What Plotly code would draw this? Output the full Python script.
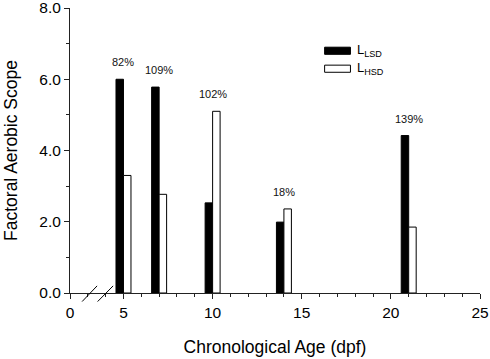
import plotly.graph_objects as go

ages = [5, 7, 10, 14, 21]
lsd = [6.0, 5.78, 2.53, 1.99, 4.42]
hsd = [3.3, 2.77, 5.1, 2.36, 1.85]
pct_labels = ["82%", "109%", "102%", "18%", "139%"]
x_tick_vals = [2, 5, 10, 15, 20, 25]
x_tick_text = ["0", "5", "10", "15", "20", "25"]
y_tick_vals = [0, 2, 4, 6, 8]
y_tick_text = ["0.0", "2.0", "4.0", "6.0", "8.0"]

XMIN, XMAX = 2, 25
BW = 0.42
FONT = "Liberation Sans, Arial, sans-serif"

fig = go.Figure()
fig.add_trace(go.Bar(x=ages, y=lsd, width=BW, offset=-BW, name="LSD",
                     marker=dict(color="black", line=dict(color="black", width=1))))
fig.add_trace(go.Bar(x=ages, y=hsd, width=BW, offset=0, name="HSD",
                     marker=dict(color="white", line=dict(color="black", width=1))))

for a, l, h, t in zip(ages, lsd, hsd, pct_labels):
    fig.add_annotation(x=a, y=max(l, h), text=t, showarrow=False, yanchor="bottom",
                       yshift=9, font=dict(size=11, color="#111111", family=FONT))

def px(v):
    return (v - XMIN) / (XMAX - XMIN)

# axis break marks
for x0, x1 in [(2.68, 3.52), (3.55, 4.42)]:
    fig.add_shape(type="line", xref="paper", yref="paper", x0=px(x0), x1=px(x1),
                  y0=-0.03, y1=0.025, line=dict(color="black", width=1))

# custom legend
legend_items = [("black", "L<sub>LSD</sub>", 0.85), ("white", "L<sub>HSD</sub>", 0.787)]
for color, label, yc in legend_items:
    fig.add_shape(type="rect", xref="paper", yref="paper", x0=0.621, x1=0.684,
                  y0=yc - 0.0125, y1=yc + 0.0125, fillcolor=color,
                  line=dict(color="black", width=1))
    fig.add_annotation(xref="paper", yref="paper", x=0.695, y=yc, text=label,
                       showarrow=False, xanchor="left", yanchor="middle",
                       font=dict(size=13, color="black", family=FONT))

fig.update_layout(
    width=490, height=359,
    margin=dict(l=70, r=10, t=8, b=66),
    plot_bgcolor="white", paper_bgcolor="white",
    showlegend=False,
    font=dict(family=FONT, color="black"),
)
fig.update_xaxes(range=[XMIN, XMAX], tickvals=x_tick_vals, ticktext=x_tick_text,
                 automargin=False, ticklabeloverflow="allow",
                 showgrid=False, zeroline=False, showline=True, linecolor="#222",
                 linewidth=1, ticks="outside", ticklen=5, tickcolor="#222",
                 tickfont=dict(size=15.5),
                 minor=dict(dtick=1, tick0=0, ticks="outside", ticklen=3, tickcolor="#222"),
                 title=dict(text="Chronological Age (dpf)", font=dict(size=17.5), standoff=21))
fig.update_yaxes(range=[0, 8], tickvals=y_tick_vals, ticktext=y_tick_text,
                 automargin=False, ticklabeloverflow="allow",
                 showgrid=False, zeroline=False, showline=True, linecolor="#222",
                 linewidth=1, ticks="outside", ticklen=5, tickcolor="#222",
                 tickfont=dict(size=15.5),
                 minor=dict(dtick=1, tick0=0, ticks="outside", ticklen=3, tickcolor="#222"),
                 title=dict(text="Factoral Aerobic Scope", font=dict(size=17.5), standoff=17))

fig.write_html("out.html", config={"displayModeBar": False},
               post_script="document.body.style.margin='0';")
